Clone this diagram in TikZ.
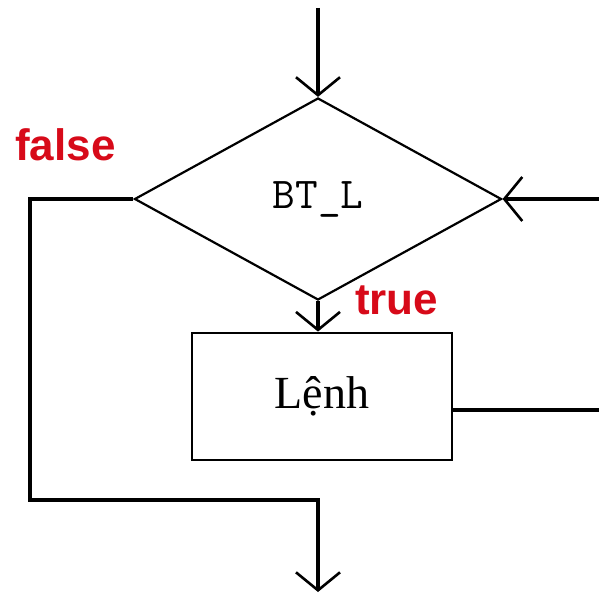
\documentclass[tikz,border=0pt]{standalone}
\usepackage{fontspec}
\setmainfont{Liberation Serif}
\newfontfamily\labelfont{Liberation Sans}
\definecolor{labelred}{RGB}{215, 10, 25}
\usetikzlibrary{positioning,shapes.geometric,arrows.meta,calc}

\begin{document}
\begin{tikzpicture}[x=1pt,y=-1pt,
    flow/.style={line width=3.6pt},
    flowtip/.style={-{Straight Barb[length=18pt,width=44pt,line width=2.6pt]}},
    cond/.style={diamond,draw,line width=2.2pt,minimum width=367pt,minimum height=202pt,inner sep=0pt,font=\ttfamily\fontsize{44}{46}\selectfont},
    stmt/.style={rectangle,draw,line width=2.8pt,minimum width=260pt,minimum height=127pt,font=\fontsize{46}{48}\selectfont},
    branchlabel/.style={inner sep=0pt,text=labelred,font=\labelfont\bfseries\fontsize{44}{46}\selectfont}]
    \useasboundingbox (0,0) rectangle (599,593);
    \coordinate (entry) at (318,8);
    \node[cond] (test) at (318,199) {BT\_L};
    \node[stmt] (body) at (322,396.5) {Lệnh};
    \coordinate (back) at (608,410);
    \coordinate (skip) at (30,500);
    \coordinate (exit) at (318,592);
    \draw[flow,flowtip] (entry) -- (test.north);
    \draw[flow,flowtip] (test.south) -- (test.south |- body.north);
    \draw[flow,flowtip] (body.east |- back) -- (back) |- (test.east);
    \draw[flow,flowtip] (test.west) -| (skip) -| (exit);
    \node[branchlabel,anchor=base west] (nolabel) at (15,161) {false};
    \node[branchlabel,anchor=base west] (yeslabel) at (355,315) {true};
\end{tikzpicture}
\end{document}
